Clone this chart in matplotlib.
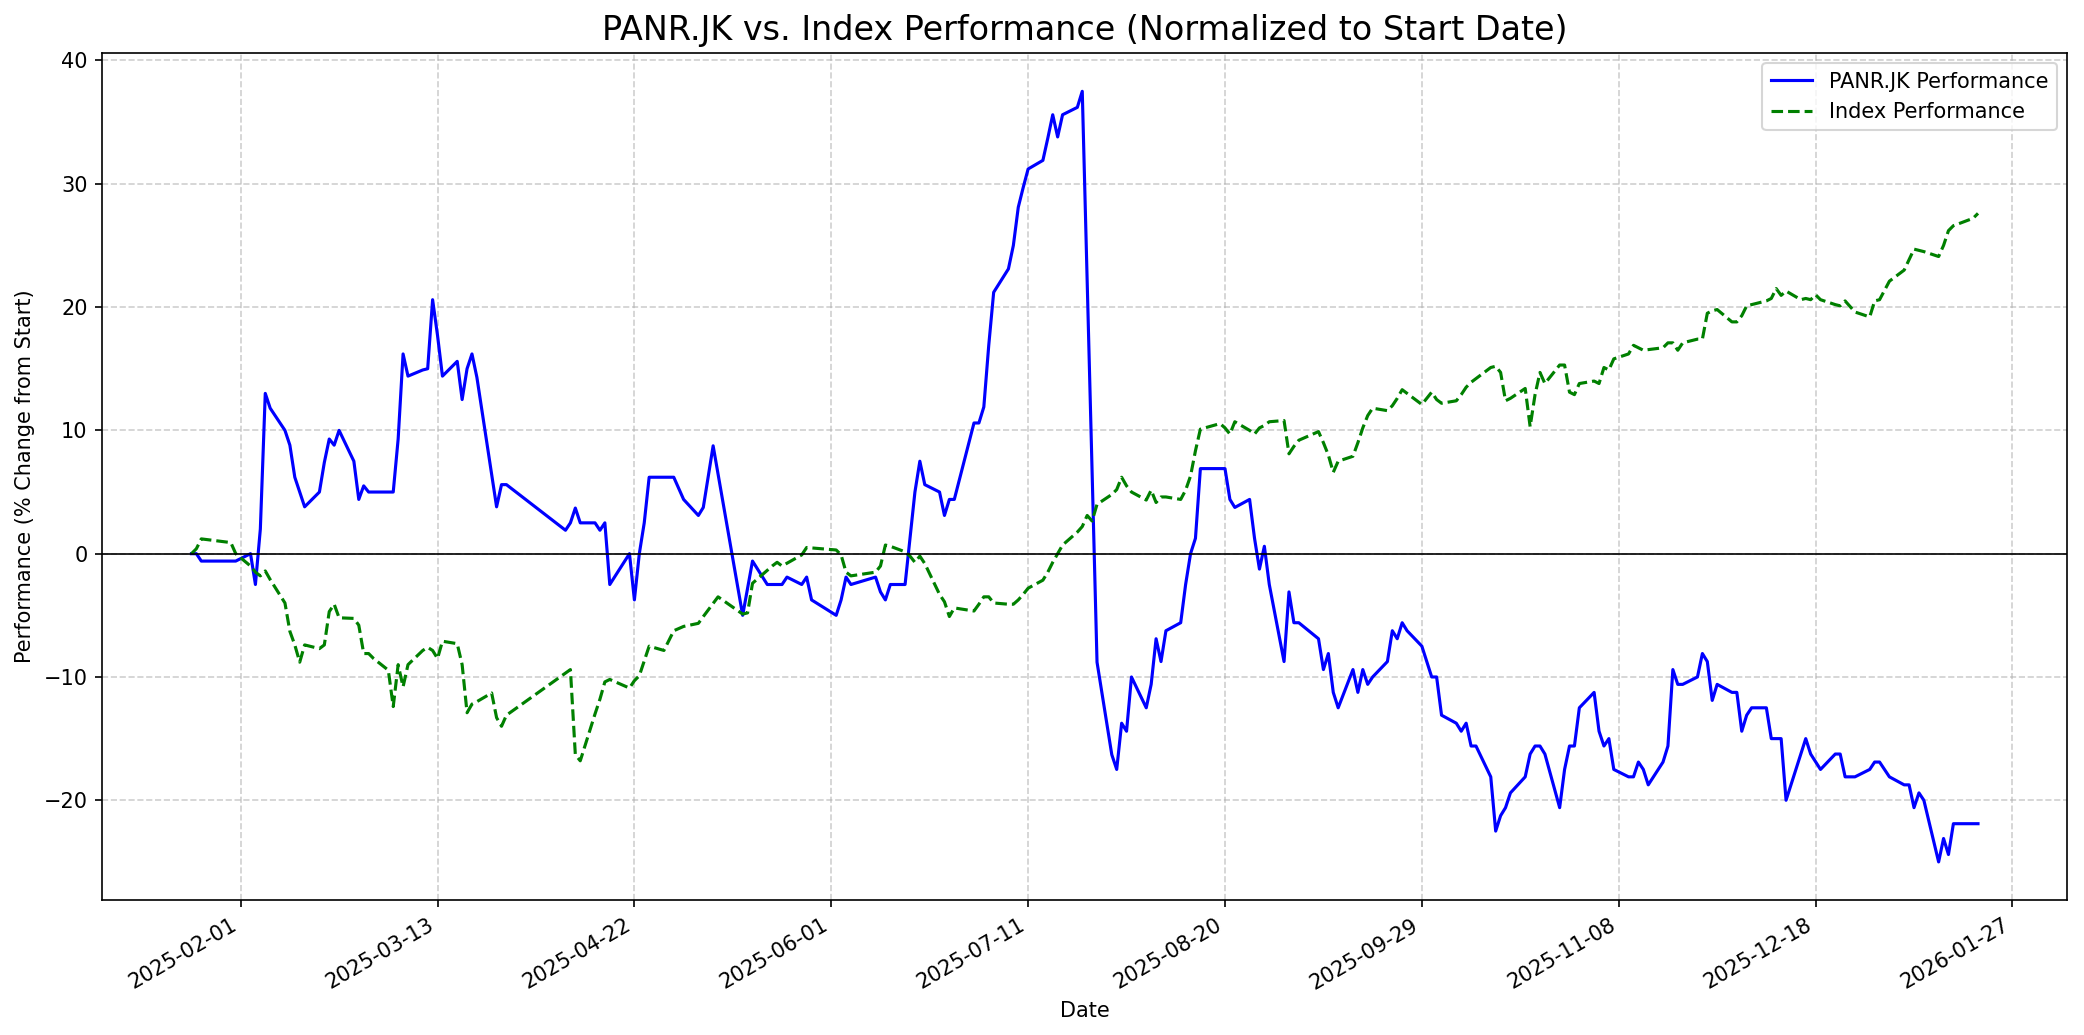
import pandas as pd
import matplotlib
matplotlib.use("Agg")
import matplotlib.pyplot as plt
import matplotlib.dates as mdates

# PANR.JK normalized performance (% change from start)
panr_dates = [
    "2025-01-22", "2025-01-23", "2025-01-24", "2025-01-31", "2025-02-03", "2025-02-04",
    "2025-02-05", "2025-02-06", "2025-02-07", "2025-02-10", "2025-02-11", "2025-02-12",
    "2025-02-14", "2025-02-17", "2025-02-18", "2025-02-19", "2025-02-20", "2025-02-21",
    "2025-02-24", "2025-02-25", "2025-02-26", "2025-02-27", "2025-03-04", "2025-03-05",
    "2025-03-06", "2025-03-07", "2025-03-10", "2025-03-11", "2025-03-12", "2025-03-13",
    "2025-03-14", "2025-03-17", "2025-03-18", "2025-03-19", "2025-03-20", "2025-03-21",
    "2025-03-25", "2025-03-26", "2025-03-27", "2025-04-08", "2025-04-09", "2025-04-10",
    "2025-04-11", "2025-04-14", "2025-04-15", "2025-04-16", "2025-04-17", "2025-04-21",
    "2025-04-22", "2025-04-23", "2025-04-24", "2025-04-25", "2025-04-30", "2025-05-02",
    "2025-05-05", "2025-05-06", "2025-05-08", "2025-05-14", "2025-05-16", "2025-05-19",
    "2025-05-22", "2025-05-23", "2025-05-26", "2025-05-27", "2025-05-28", "2025-06-02",
    "2025-06-03", "2025-06-04", "2025-06-05", "2025-06-10", "2025-06-11", "2025-06-12",
    "2025-06-13", "2025-06-16", "2025-06-18", "2025-06-19", "2025-06-20", "2025-06-23",
    "2025-06-24", "2025-06-25", "2025-06-26", "2025-06-30", "2025-07-01", "2025-07-02",
    "2025-07-03", "2025-07-04", "2025-07-07", "2025-07-08", "2025-07-09", "2025-07-10",
    "2025-07-11", "2025-07-14", "2025-07-15", "2025-07-16", "2025-07-17", "2025-07-18",
    "2025-07-21", "2025-07-22", "2025-07-25", "2025-07-28", "2025-07-29", "2025-07-30",
    "2025-07-31", "2025-08-01", "2025-08-04", "2025-08-05", "2025-08-06", "2025-08-07",
    "2025-08-08", "2025-08-11", "2025-08-12", "2025-08-13", "2025-08-14", "2025-08-15",
    "2025-08-20", "2025-08-21", "2025-08-22", "2025-08-25", "2025-08-26", "2025-08-27",
    "2025-08-28", "2025-08-29", "2025-09-01", "2025-09-02", "2025-09-03", "2025-09-04",
    "2025-09-08", "2025-09-09", "2025-09-10", "2025-09-11", "2025-09-12", "2025-09-15",
    "2025-09-16", "2025-09-17", "2025-09-18", "2025-09-19", "2025-09-22", "2025-09-23",
    "2025-09-24", "2025-09-25", "2025-09-26", "2025-09-29", "2025-10-01", "2025-10-02",
    "2025-10-03", "2025-10-06", "2025-10-07", "2025-10-08", "2025-10-09", "2025-10-10",
    "2025-10-13", "2025-10-14", "2025-10-15", "2025-10-16", "2025-10-17", "2025-10-20",
    "2025-10-21", "2025-10-22", "2025-10-23", "2025-10-24", "2025-10-27", "2025-10-28",
    "2025-10-29", "2025-10-30", "2025-10-31", "2025-11-03", "2025-11-04", "2025-11-05",
    "2025-11-06", "2025-11-07", "2025-11-10", "2025-11-11", "2025-11-12", "2025-11-13",
    "2025-11-14", "2025-11-17", "2025-11-18", "2025-11-19", "2025-11-20", "2025-11-21",
    "2025-11-24", "2025-11-25", "2025-11-26", "2025-11-27", "2025-11-28", "2025-12-01",
    "2025-12-02", "2025-12-03", "2025-12-04", "2025-12-05", "2025-12-08", "2025-12-09",
    "2025-12-11", "2025-12-12", "2025-12-16", "2025-12-17", "2025-12-19", "2025-12-22",
    "2025-12-23", "2025-12-24", "2025-12-26", "2025-12-29", "2025-12-30", "2025-12-31",
    "2026-01-02", "2026-01-05", "2026-01-06", "2026-01-07", "2026-01-08", "2026-01-09",
    "2026-01-12", "2026-01-13", "2026-01-14", "2026-01-15", "2026-01-20",
]
panr_vals = [
    0.0, 0.0, -0.6, -0.6, 0.0, -2.5,
    2.0, 13.0, 11.8, 10.0, 8.8, 6.2,
    3.8, 5.0, 7.4, 9.3, 8.8, 10.0,
    7.5, 4.4, 5.5, 5.0, 5.0, 9.3,
    16.2, 14.4, 14.9, 15.0, 20.6, 17.7,
    14.4, 15.6, 12.5, 15.0, 16.2, 14.3,
    3.8, 5.6, 5.6, 1.9, 2.5, 3.7,
    2.5, 2.5, 1.9, 2.5, -2.5, 0.0,
    -3.75, 0.0, 2.5, 6.2, 6.2, 4.4,
    3.1, 3.75, 8.75, -5.0, -0.6, -2.5,
    -2.5, -1.9, -2.5, -1.9, -3.75, -5.0,
    -3.75, -1.9, -2.5, -1.9, -3.1, -3.75,
    -2.5, -2.5, 5.0, 7.5, 5.6, 5.0,
    3.1, 4.4, 4.4, 10.6, 10.6, 11.9,
    16.9, 21.2, 23.1, 25.0, 28.1, 29.7,
    31.2, 31.9, 33.7, 35.6, 33.8, 35.6,
    36.2, 37.5, -8.8, -16.3, -17.5, -13.75,
    -14.4, -10.0, -12.5, -10.6, -6.9, -8.75,
    -6.25, -5.6, -2.5, 0.0, 1.25, 6.9,
    6.9, 4.4, 3.75, 4.4, 1.25, -1.25,
    0.6, -2.5, -8.75, -3.1, -5.6, -5.6,
    -6.9, -9.4, -8.1, -11.25, -12.5, -9.4,
    -11.25, -9.4, -10.6, -10.0, -8.75, -6.25,
    -6.9, -5.6, -6.25, -7.5, -10.0, -10.0,
    -13.1, -13.75, -14.4, -13.75, -15.6, -15.6,
    -18.1, -22.5, -21.25, -20.6, -19.4, -18.1,
    -16.25, -15.6, -15.6, -16.25, -20.6, -17.5,
    -15.6, -15.6, -12.5, -11.25, -14.4, -15.6,
    -15.0, -17.5, -18.1, -18.1, -16.9, -17.5,
    -18.75, -16.9, -15.6, -9.4, -10.6, -10.6,
    -10.0, -8.1, -8.75, -11.9, -10.6, -11.25,
    -11.25, -14.4, -13.1, -12.5, -12.5, -15.0,
    -15.0, -20.0, -15.0, -16.25, -17.5, -16.25,
    -16.25, -18.1, -18.1, -17.5, -16.9, -16.9,
    -18.1, -18.75, -18.75, -20.6, -19.4, -20.0,
    -25.0, -23.1, -24.4, -21.9, -21.9,
]

# Index normalized performance
index_dates = [
    "2025-01-22", "2025-01-23", "2025-01-24", "2025-01-30", "2025-01-31", "2025-02-03",
    "2025-02-04", "2025-02-05", "2025-02-06", "2025-02-07", "2025-02-10", "2025-02-11",
    "2025-02-12", "2025-02-13", "2025-02-14", "2025-02-17", "2025-02-18", "2025-02-19",
    "2025-02-20", "2025-02-21", "2025-02-24", "2025-02-25", "2025-02-26", "2025-02-27",
    "2025-02-28", "2025-03-03", "2025-03-04", "2025-03-05", "2025-03-06", "2025-03-07",
    "2025-03-10", "2025-03-11", "2025-03-12", "2025-03-13", "2025-03-14", "2025-03-17",
    "2025-03-18", "2025-03-19", "2025-03-20", "2025-03-21", "2025-03-24", "2025-03-25",
    "2025-03-26", "2025-03-27", "2025-04-09", "2025-04-10", "2025-04-11", "2025-04-14",
    "2025-04-15", "2025-04-16", "2025-04-17", "2025-04-21", "2025-04-22", "2025-04-23",
    "2025-04-25", "2025-04-28", "2025-04-30", "2025-05-02", "2025-05-05", "2025-05-06",
    "2025-05-09", "2025-05-14", "2025-05-15", "2025-05-16", "2025-05-20", "2025-05-21",
    "2025-05-22", "2025-05-26", "2025-05-27", "2025-06-02", "2025-06-03", "2025-06-04",
    "2025-06-05", "2025-06-10", "2025-06-11", "2025-06-12", "2025-06-13", "2025-06-16",
    "2025-06-17", "2025-06-18", "2025-06-19", "2025-06-20", "2025-06-23", "2025-06-24",
    "2025-06-25", "2025-06-26", "2025-06-30", "2025-07-01", "2025-07-02", "2025-07-03",
    "2025-07-04", "2025-07-07", "2025-07-08", "2025-07-09", "2025-07-10", "2025-07-11",
    "2025-07-14", "2025-07-15", "2025-07-16", "2025-07-17", "2025-07-18", "2025-07-21",
    "2025-07-22", "2025-07-23", "2025-07-24", "2025-07-25", "2025-07-28", "2025-07-29",
    "2025-07-30", "2025-07-31", "2025-08-01", "2025-08-04", "2025-08-05", "2025-08-06",
    "2025-08-07", "2025-08-08", "2025-08-11", "2025-08-12", "2025-08-13", "2025-08-14",
    "2025-08-15", "2025-08-19", "2025-08-20", "2025-08-21", "2025-08-22", "2025-08-25",
    "2025-08-26", "2025-08-27", "2025-08-28", "2025-08-29", "2025-09-01", "2025-09-02",
    "2025-09-03", "2025-09-04", "2025-09-08", "2025-09-09", "2025-09-10", "2025-09-11",
    "2025-09-12", "2025-09-15", "2025-09-16", "2025-09-17", "2025-09-18", "2025-09-19",
    "2025-09-22", "2025-09-23", "2025-09-24", "2025-09-25", "2025-09-26", "2025-09-29",
    "2025-09-30", "2025-10-01", "2025-10-02", "2025-10-03", "2025-10-06", "2025-10-07",
    "2025-10-08", "2025-10-09", "2025-10-10", "2025-10-13", "2025-10-14", "2025-10-15",
    "2025-10-16", "2025-10-17", "2025-10-20", "2025-10-21", "2025-10-22", "2025-10-23",
    "2025-10-24", "2025-10-27", "2025-10-28", "2025-10-29", "2025-10-30", "2025-10-31",
    "2025-11-03", "2025-11-04", "2025-11-05", "2025-11-06", "2025-11-07", "2025-11-10",
    "2025-11-11", "2025-11-12", "2025-11-13", "2025-11-17", "2025-11-18", "2025-11-19",
    "2025-11-20", "2025-11-21", "2025-11-24", "2025-11-25", "2025-11-26", "2025-11-27",
    "2025-11-28", "2025-12-01", "2025-12-02", "2025-12-03", "2025-12-04", "2025-12-05",
    "2025-12-08", "2025-12-09", "2025-12-10", "2025-12-11", "2025-12-12", "2025-12-15",
    "2025-12-16", "2025-12-17", "2025-12-18", "2025-12-19", "2025-12-22", "2025-12-23",
    "2025-12-24", "2025-12-26", "2025-12-29", "2025-12-30", "2025-12-31", "2026-01-02",
    "2026-01-05", "2026-01-07", "2026-01-09", "2026-01-12", "2026-01-13", "2026-01-14",
    "2026-01-15", "2026-01-19", "2026-01-20",
]
index_vals = [
    0.0, 0.4, 1.2, 0.9, 0.0, -1.0,
    -1.5, -1.8, -1.4, -2.1, -4.0, -6.3,
    -7.4, -8.8, -7.4, -7.7, -7.4, -4.7,
    -4.1, -5.2, -5.25, -5.8, -8.1, -8.1,
    -8.5, -9.45, -12.4, -9.0, -10.8, -9.0,
    -7.85, -7.6, -7.85, -8.5, -7.1, -7.3,
    -9.0, -12.9, -12.2, -12.0, -11.3, -13.3,
    -14.0, -13.1, -9.4, -16.3, -16.8, -13.0,
    -11.8, -10.4, -10.2, -10.9, -10.3, -9.9,
    -7.5, -7.85, -6.25, -5.9, -5.65, -5.1,
    -3.5, -4.9, -4.8, -2.4, -1.0, -0.7,
    -1.0, -0.1, 0.5, 0.3, -0.1, -1.5,
    -1.8, -1.5, -1.0, 0.7, 0.6, 0.15,
    -0.2, -0.7, -0.2, -0.8, -3.3, -3.9,
    -5.1, -4.4, -4.65, -4.1, -3.5, -3.5,
    -4.0, -4.1, -4.1, -3.75, -3.3, -2.8,
    -2.15, -1.5, -0.7, 0.0, 0.7, 1.75,
    2.2, 3.1, 2.65, 4.0, 4.8, 5.2,
    6.2, 5.5, 5.0, 4.35, 5.15, 4.15,
    4.6, 4.6, 4.4, 5.15, 6.3, 8.35,
    10.1, 10.55, 10.2, 9.7, 10.7, 10.0,
    9.7, 10.2, 10.4, 10.7, 10.8, 8.1,
    8.7, 9.2, 9.9, 9.0, 8.0, 6.6,
    7.5, 7.9, 9.0, 10.2, 11.2, 11.8,
    11.6, 12.0, 12.6, 13.3, 13.0, 12.1,
    12.6, 13.1, 12.5, 12.2, 12.4, 12.9,
    13.5, 13.9, 14.2, 15.1, 15.2, 14.7,
    12.4, 12.6, 13.4, 10.3, 12.9, 14.7,
    13.8, 15.3, 15.3, 13.1, 12.9, 13.8,
    14.0, 13.8, 15.1, 14.9, 15.8, 16.2,
    16.9, 16.7, 16.5, 16.7, 17.1, 17.1,
    16.5, 17.1, 17.4, 17.4, 19.5, 19.7,
    19.8, 18.8, 18.8, 19.3, 20.1, 20.2,
    20.5, 20.7, 21.5, 20.95, 21.3, 20.6,
    20.7, 20.6, 21.0, 20.6, 20.2, 20.1,
    20.5, 19.6, 19.2, 20.5, 20.6, 22.1,
    23.0, 24.7, 24.5, 24.1, 25.0, 26.2,
    26.6, 27.2, 27.6,
]

tick_dates = ["2025-02-01", "2025-03-13", "2025-04-22", "2025-06-01", "2025-07-11",
              "2025-08-20", "2025-09-29", "2025-11-08", "2025-12-18", "2026-01-27"]

fig, ax = plt.subplots(figsize=(2084 / 150, 1035 / 150), dpi=150)

ax.plot(pd.to_datetime(panr_dates), panr_vals, color="blue", linewidth=1.5,
        label="PANR.JK Performance")
ax.plot(pd.to_datetime(index_dates), index_vals, color="green", linestyle="--",
        linewidth=1.5, label="Index Performance")
ax.axhline(0, color="black", linewidth=0.8)

ax.set_title("PANR.JK vs. Index Performance (Normalized to Start Date)", fontsize=16)
ax.set_xlabel("Date")
ax.set_ylabel("Performance (% Change from Start)")
ax.set_xticks(pd.to_datetime(tick_dates))
ax.xaxis.set_major_formatter(mdates.DateFormatter("%Y-%m-%d"))
plt.setp(ax.get_xticklabels(), rotation=30, ha="right")
ax.grid(True, linestyle="--", alpha=0.6)
ax.legend(loc="upper right")

fig.subplots_adjust(left=0.049, right=0.992, top=0.949, bottom=0.130)
fig.savefig("out.png", dpi=150)
